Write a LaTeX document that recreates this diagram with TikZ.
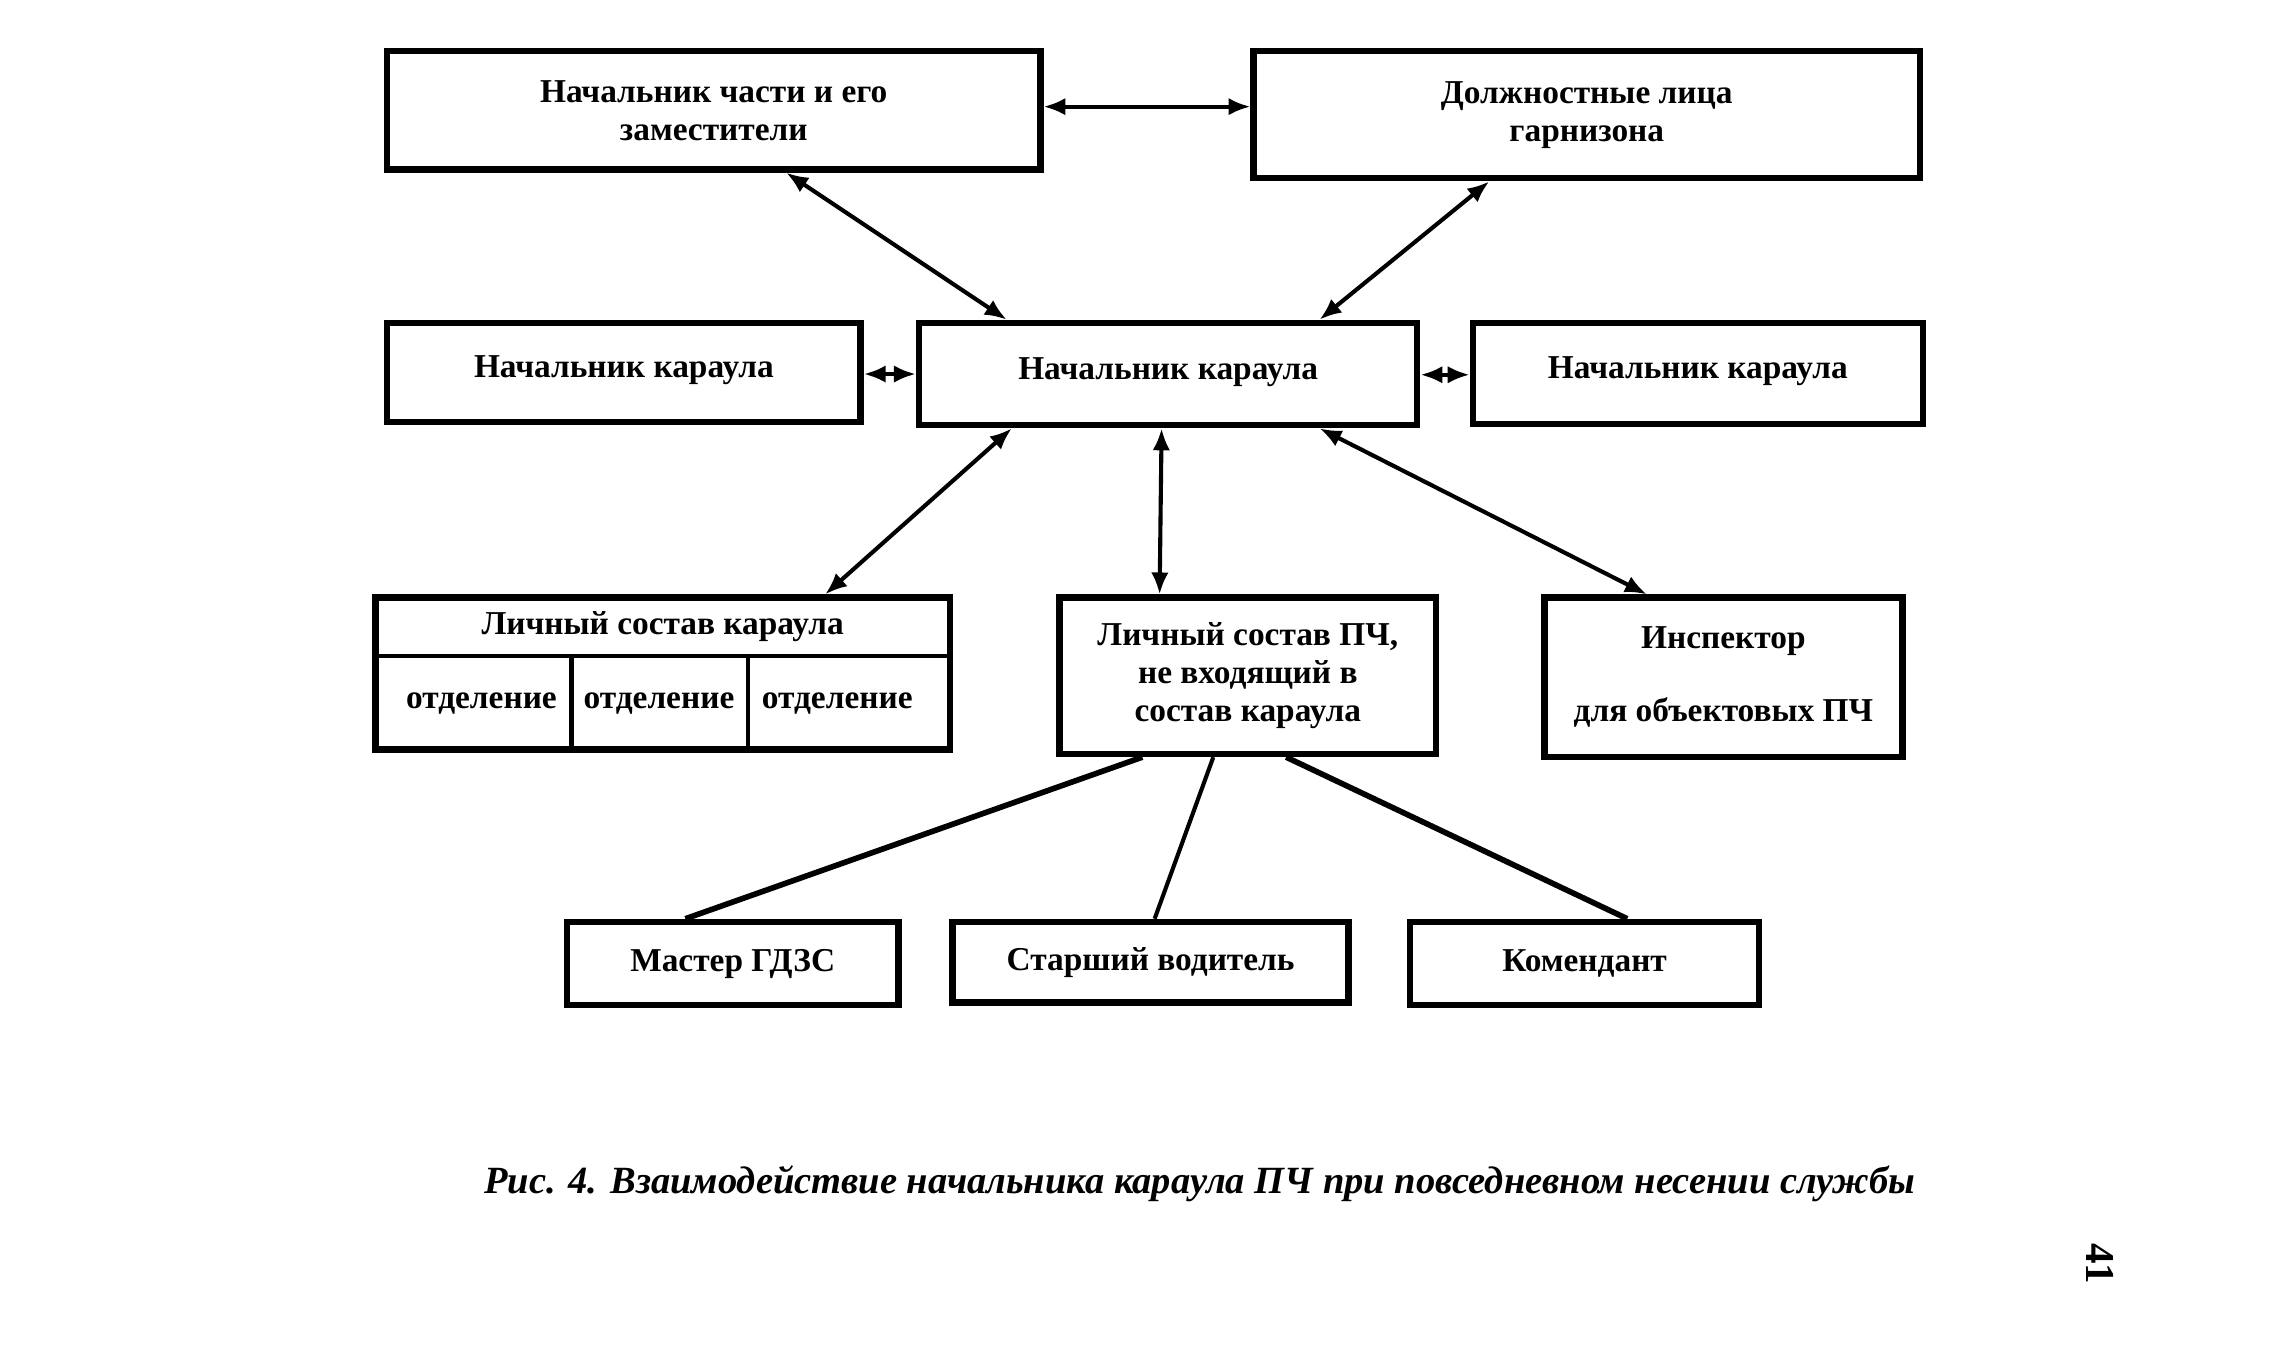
\documentclass[tikz,border=0pt]{standalone}
\usepackage{fontspec}
\setmainfont{Liberation Serif}
\usetikzlibrary{arrows.meta,calc}
\begin{document}
\begin{tikzpicture}[
  box/.style={draw, line width=2.5pt, align=center, inner sep=0pt,
    font=\fontsize{13}{14.8}\selectfont\bfseries},
  txt/.style={inner sep=0pt, align=center, font=\fontsize{13}{14.8}\selectfont\bfseries},
  dbl/.style={line width=1.6pt, {Latex[length=0.3cm,width=0.24cm]}-{Latex[length=0.3cm,width=0.24cm]}},
  link/.style={line width=2.2pt},
  divider/.style={line width=1.8pt}
]
\useasboundingbox (0,0) rectangle (31.36,-18.54);

% row 1
\node[box, minimum width=8.94cm, minimum height=1.62cm] (b1) at (9.77,-1.51) {Начальник части и его\\заместители};
\node[box, minimum width=9.12cm, minimum height=1.74cm] (b2) at (21.72,-1.57) {Должностные лица\\гарнизона};

% row 2
\node[box, minimum width=6.48cm, minimum height=1.36cm, text depth=0.16cm] (r2l) at (8.54,-5.10) {Начальник караула};
\node[box, minimum width=6.82cm, minimum height=1.40cm, text depth=0.16cm] (r2c) at (15.99,-5.12) {Начальник караула};
\node[box, minimum width=6.16cm, minimum height=1.38cm, text depth=0.16cm] (r2r) at (23.24,-5.11) {Начальник караула};

% row 3
\node[box, minimum width=7.86cm, minimum height=2.08cm] (r3l) at (9.07,-9.22) {};
\coordinate (hl) at (0,-8.98);
\coordinate (d1) at (7.82,0);
\coordinate (d2) at (10.24,0);
\draw[divider] (r3l.west |- hl) -- (r3l.east |- hl);
\draw[divider] (d1 |- hl) -- (d1 |- r3l.south);
\draw[divider] (d2 |- hl) -- (d2 |- r3l.south);
\node[txt] (r3lh) at (9.07,-8.58) {Личный состав караула};
\node[txt] (o1) at (6.59,-9.63) {отделение};
\node[txt] (o2) at (9.02,-9.63) {отделение};
\node[txt] (o3) at (11.46,-9.63) {отделение};

\node[box, minimum width=5.16cm, minimum height=2.14cm] (r3m) at (17.08,-9.25) {Личный состав ПЧ,\\не входящий в\\состав караула};
\node[box, minimum width=4.90cm, minimum height=2.18cm] (r3r) at (23.59,-9.27) {Инспектор\\[0.48cm]для объектовых ПЧ};

% row 4
\node[box, minimum width=4.54cm, minimum height=1.14cm] (r4a) at (10.03,-13.19) {Мастер ГДЗС};
\node[box, minimum width=5.42cm, minimum height=1.10cm] (r4b) at (15.75,-13.17) {Старший водитель};
\node[box, minimum width=4.78cm, minimum height=1.14cm] (r4c) at (21.69,-13.19) {Комендант};

% connectors
\draw[dbl] (b1.east |- 0,-1.46) -- (b2.west |- 0,-1.46);
\draw[dbl] ($(b1.south west)!0.61!(b1.south east)$) -- ($(r2c.north west)!0.18!(r2c.north east)$);
\draw[dbl] ($(b2.south west)!0.355!(b2.south east)$) -- ($(r2c.north west)!0.80!(r2c.north east)$);
\draw[dbl] (r2l.east |- 0,-5.12) -- (r2c.west |- 0,-5.12);
\draw[dbl] (r2c.east |- 0,-5.13) -- (r2r.west |- 0,-5.13);
\draw[dbl] ($(r2c.south west)!0.19!(r2c.south east)$) -- ($(r3l.north west)!0.78!(r3l.north east)$);
\draw[dbl] ($(r2c.south west)!0.487!(r2c.south east)$) -- ($(r3m.north west)!0.27!(r3m.north east)$);
\draw[dbl] ($(r2c.south west)!0.80!(r2c.south east)$) -- ($(r3r.north west)!0.29!(r3r.north east)$);

\draw[link] ($(r3m.south west)!0.225!(r3m.south east)$) -- ($(r4a.north west)!0.36!(r4a.north east)$);
\draw[link, line width=1.6pt] ($(r3m.south west)!0.41!(r3m.south east)$) -- ($(r4b.north west)!0.51!(r4b.north east)$);
\draw[link] ($(r3m.south west)!0.60!(r3m.south east)$) -- ($(r4c.north west)!0.62!(r4c.north east)$);

% caption
\node[inner sep=0pt, font=\fontsize{15}{18}\selectfont\bfseries\itshape] (cap) at (16.42,-16.2)
  {Рис. 4. Взаимодействие начальника караула ПЧ при повседневном несении службы};

% page number
\node[inner sep=0pt, rotate=-90, font=\fontsize{16}{18}\selectfont\bfseries] (pg) at (28.74,-17.3) {41};
\end{tikzpicture}
\end{document}
